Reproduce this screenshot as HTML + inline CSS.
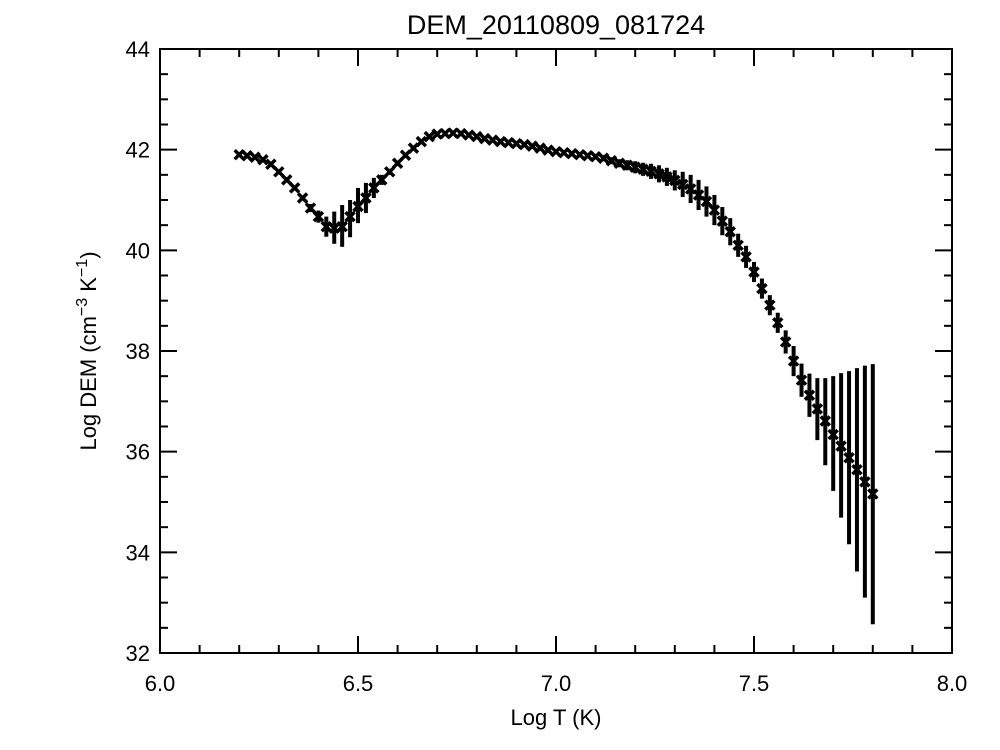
<!DOCTYPE html>
<html><head><meta charset="utf-8"><style>
html,body{margin:0;padding:0;background:#fff;}
svg{display:block;font-family:"Liberation Sans",sans-serif;}
</style></head><body>
<svg id="chart" width="1000" height="750">
<rect width="1000" height="750" fill="#fff"/>
<text x="556" y="34" font-size="27" text-anchor="middle">DEM_20110809_081724</text>
<rect x="160" y="49" width="792" height="604" fill="none" stroke="#000" stroke-width="2"/>
<g id="axes"></g>
<g id="marks"></g>
<text x="556" y="725" font-size="22" text-anchor="middle">Log T (K)</text>
<text transform="translate(96,351) rotate(-90)" font-size="22" text-anchor="middle">Log DEM (cm<tspan dy="-9" font-size="16">−3</tspan><tspan dy="9"> K</tspan><tspan dy="-9" font-size="16">−1</tspan><tspan dy="9">)</tspan></text>
</svg>
<script>
const logT = [];
for (let i = 0; i <= 80; i++) logT.push(+(6.2 + i * 0.02).toFixed(2));
const logDEM = [41.90,41.88,41.85,41.80,41.71,41.56,41.40,41.24,41.04,40.84,40.67,40.47,40.44,40.47,40.67,40.87,41.04,41.24,41.40,41.56,41.73,41.89,42.03,42.16,42.26,42.31,42.32,42.33,42.32,42.29,42.26,42.22,42.19,42.16,42.14,42.12,42.10,42.07,42.03,41.99,41.96,41.94,41.92,41.90,41.88,41.86,41.83,41.78,41.73,41.69,41.65,41.61,41.57,41.52,41.46,41.39,41.31,41.22,41.10,40.97,40.80,40.58,40.37,40.10,39.87,39.57,39.24,38.91,38.56,38.18,37.80,37.42,37.12,36.85,36.61,36.34,36.11,35.88,35.64,35.40,35.16];
const errHi = [0.03,0.03,0.03,0.03,0.03,0.03,0.04,0.04,0.05,0.08,0.12,0.2,0.33,0.43,0.33,0.37,0.3,0.2,0.1,0.06,0.05,0.04,0.04,0.03,0.03,0.03,0.03,0.03,0.03,0.03,0.03,0.03,0.03,0.03,0.03,0.03,0.03,0.03,0.03,0.03,0.03,0.03,0.03,0.03,0.03,0.05,0.06,0.07,0.08,0.1,0.12,0.13,0.15,0.17,0.18,0.2,0.25,0.28,0.3,0.3,0.3,0.28,0.27,0.23,0.22,0.2,0.2,0.2,0.2,0.23,0.3,0.33,0.43,0.61,0.85,1.16,1.45,1.72,2.02,2.31,2.58];
const errLo = [0.03,0.03,0.03,0.03,0.03,0.03,0.04,0.04,0.05,0.08,0.12,0.2,0.31,0.4,0.41,0.33,0.3,0.2,0.1,0.06,0.05,0.04,0.04,0.03,0.03,0.03,0.03,0.03,0.03,0.03,0.03,0.03,0.03,0.03,0.03,0.03,0.03,0.03,0.03,0.03,0.03,0.03,0.03,0.03,0.03,0.05,0.06,0.07,0.08,0.1,0.12,0.13,0.15,0.17,0.18,0.2,0.25,0.28,0.3,0.3,0.3,0.28,0.27,0.23,0.22,0.2,0.2,0.2,0.2,0.23,0.3,0.33,0.43,0.62,0.88,1.12,1.42,1.72,2.02,2.30,2.59];
const xTicks = ["6.0","6.5","7.0","7.5","8.0"];
const yTicks = ["32","34","36","38","40","42","44"];
const NS="http://www.w3.org/2000/svg";
const X0=160,X1=952,Y0=653,Y1=49,xmin=6,xmax=8,ymin=32,ymax=44;
const sx=v=>X0+(v-xmin)/(xmax-xmin)*(X1-X0);
const sy=v=>Y0-(v-ymin)/(ymax-ymin)*(Y0-Y1);
function mk(tag,attrs,parent){const e=document.createElementNS(NS,tag);for(const k in attrs)e.setAttribute(k,attrs[k]);parent.appendChild(e);return e;}
const axes=document.getElementById('axes'), marks=document.getElementById('marks');
// x ticks
for(let t=6;t<=8.0001;t+=0.1){
  const x=sx(t), major=Math.abs(t*2-Math.round(t*2))<1e-6, L=major?17:8;
  const a=mk('line',{x1:x,x2:x,y1:Y0,y2:Y0-L,stroke:'#000','stroke-width':2},axes);
  
  
  const b=mk('line',{x1:x,x2:x,y1:Y1,y2:Y1+L,stroke:'#000','stroke-width':2},axes);
  
  
}
xTicks.forEach(s=>{
  const t=mk('text',{x:sx(+s),y:Y0+38,'font-size':22,'text-anchor':'middle'},axes);
  t.textContent=s;
  
  
});
for(let v=32;v<=44.0001;v+=0.5){
  const y=sy(v), major=Math.abs(v/2-Math.round(v/2))<1e-6, L=major?17:8;
  const a=mk('line',{x1:X0,x2:X0+L,y1:y,y2:y,stroke:'#000','stroke-width':2},axes);
  
  
  const b=mk('line',{x1:X1,x2:X1-L,y1:y,y2:y,stroke:'#000','stroke-width':2},axes);
  
  
}
yTicks.forEach(s=>{
  const t=mk('text',{x:X0-10,y:sy(+s)+8,'font-size':22,'text-anchor':'end'},axes);
  t.textContent=s;
  
  
});
logT.forEach((t,i)=>{
  const x=sx(t), v=logDEM[i];
  const e=mk('line',{x1:x,x2:x,y1:sy(v+errHi[i]),y2:sy(v-errLo[i]),stroke:'#000','stroke-width':4},marks);
  
  
  const y=sy(v), r=4.5;
  const p=mk('path',{d:`M${x-r},${y-r}L${x+r},${y+r}M${x-r},${y+r}L${x+r},${y-r}`,stroke:'#000','stroke-width':3.5,fill:'none'},marks);
  
  
});
</script>
</body></html>
